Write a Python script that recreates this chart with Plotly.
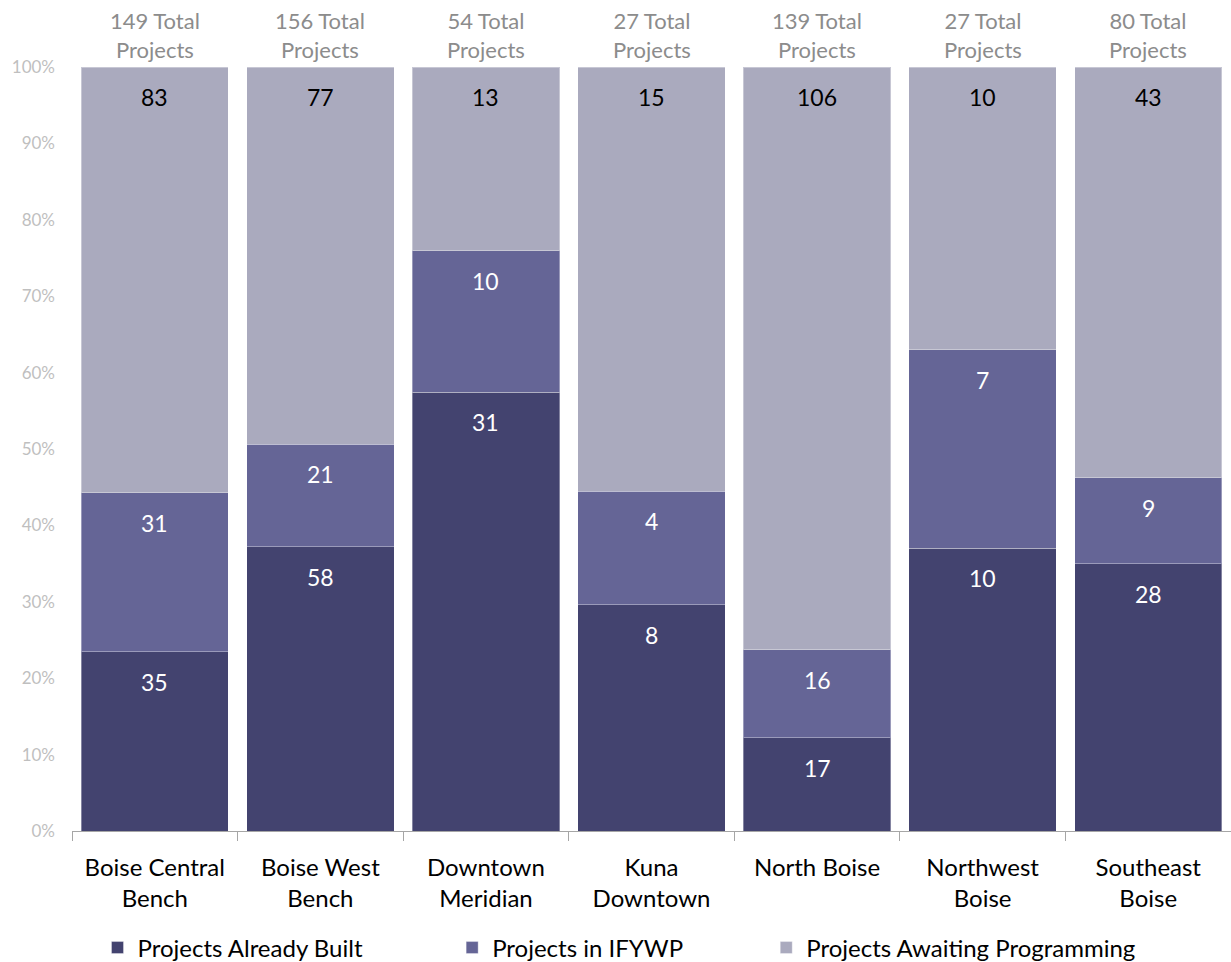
import plotly.graph_objects as go

categories = ["Boise Central<br>Bench", "Boise West<br>Bench", "Downtown<br>Meridian",
              "Kuna<br>Downtown", "North Boise<br> ", "Northwest<br>Boise", "Southeast<br>Boise"]
built = [35, 58, 31, 8, 17, 10, 28]
ifywp = [31, 21, 10, 4, 16, 7, 9]
awaiting = [83, 77, 13, 15, 106, 10, 43]
totals = [149, 156, 54, 27, 139, 27, 80]

series = [
    ("Projects Already Built", built, "#43436F", "white"),
    ("Projects in IFYWP", ifywp, "#656596", "white"),
    ("Projects Awaiting Programming", awaiting, "#AAAABE", "black"),
]
legend_ids = ["legend", "legend2", "legend3"]
legend_x = [0.022, 0.328, 0.599]

FONT = "Lato"
fig = go.Figure()
cum = [0.0] * len(categories)
for (name, vals, col, tcol), lid in zip(series, legend_ids):
    fig.add_trace(go.Bar(
        x=categories, y=vals, name=name, legend=lid, showlegend=True,
        marker=dict(color=col, line=dict(color="rgba(255,255,255,0.35)", width=1)),
        hoverinfo="skip",
    ))
    for j, c in enumerate(categories):
        cum[j] += vals[j] / totals[j] * 100
        fig.add_annotation(x=c, y=cum[j], xref="x", yref="y", yanchor="middle",
                           yshift=-30, text=str(vals[j]), showarrow=False,
                           font=dict(color=tcol, size=23, family=FONT))

for c, t in zip(categories, totals):
    fig.add_annotation(x=c, y=1.0, xref="x", yref="paper", yanchor="bottom",
                       text=f"{t} Total<br>Projects", showarrow=False, yshift=2,
                       font=dict(color="#8C8C8C", size=22, family=FONT))

leg_common = dict(orientation="h", xanchor="left", yref="container", y=0.0146, yanchor="middle",
                  font=dict(size=24, color="black", family=FONT), bgcolor="rgba(0,0,0,0)",
                  visible=True)

fig.update_layout(
    width=1231, height=962, showlegend=True,
    barmode="stack", barnorm="percent", bargap=0.11,
    plot_bgcolor="white", paper_bgcolor="white",
    margin=dict(l=72, r=0, t=67, b=131),
    font=dict(family=FONT),
    xaxis=dict(showline=True, linecolor="#A6A6A6", linewidth=1,
               ticks="outside", tickson="boundaries", ticklen=9, tickcolor="#A6A6A6",
               ticklabelstandoff=15,
               tickfont=dict(size=24, color="black", family=FONT)),
    yaxis=dict(range=[0, 100], dtick=10, ticksuffix="%", showgrid=False,
               showline=False, zeroline=False, ticks="", ticklabelstandoff=16,
               tickfont=dict(size=17, color="#BFBFBF", family=FONT)),
    legend=dict(x=legend_x[0], **leg_common),
    legend2=dict(x=legend_x[1], **leg_common),
    legend3=dict(x=legend_x[2], **leg_common),
)

fig.write_html("out.html", config={"displayModeBar": False},
               post_script="document.body.style.margin='0';")
